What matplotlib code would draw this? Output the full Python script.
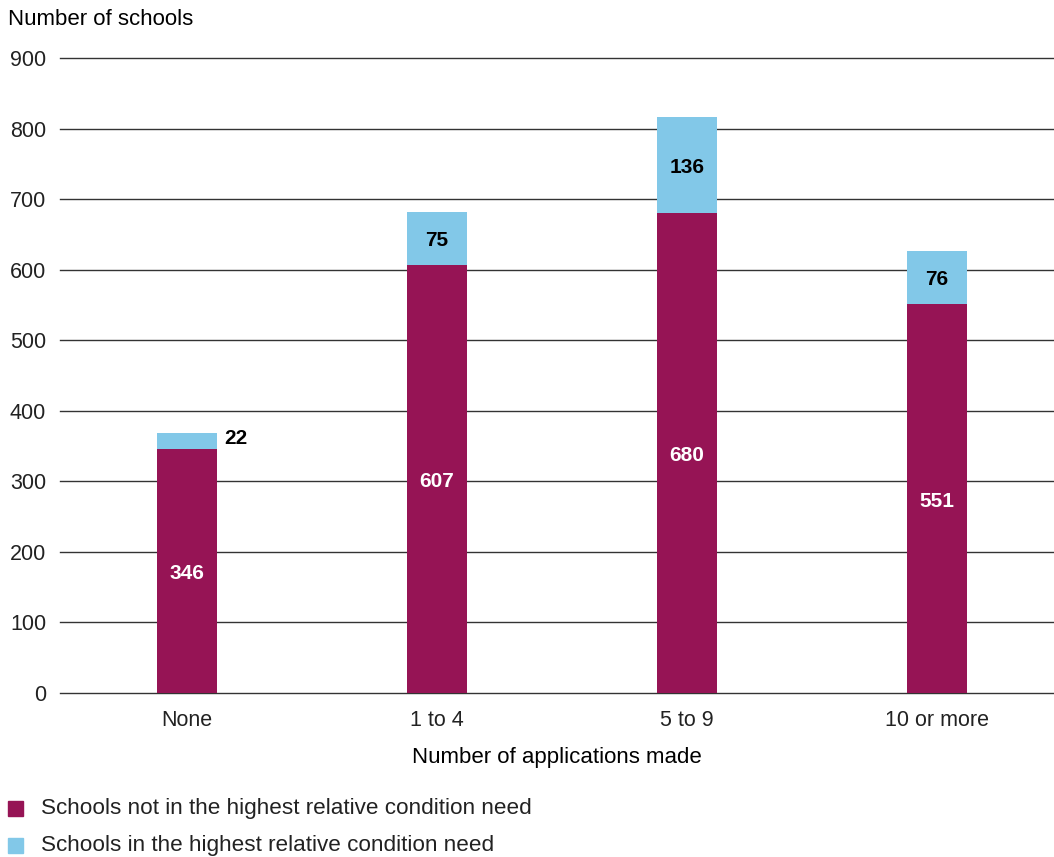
import matplotlib.pyplot as plt
from matplotlib.patches import Rectangle

plt.rcParams['font.family'] = ['Liberation Sans', 'DejaVu Sans']

categories = ['None', '1 to 4', '5 to 9', '10 or more']
not_highest = [346, 607, 680, 551]
highest = [22, 75, 136, 76]
series_names = ['Schools not in the highest relative condition need',
                'Schools in the highest relative condition need']

red = '#961455'
blue = '#82C8E8'

fig = plt.figure(figsize=(10.54, 8.57), dpi=100)
ax = fig.add_axes([0.0569, 0.1914, 0.9431, 0.7409])

x = list(range(len(categories)))
w = 0.24
ax.bar(x, not_highest, width=w, color=red, zorder=3)
ax.bar(x, highest, width=w, bottom=not_highest, color=blue, zorder=3)

for i in x:
    ax.text(i, not_highest[i] / 2 - 4, str(not_highest[i]), ha='center', va='center',
            color='white', fontsize=15, fontweight='bold', zorder=4)
    top_mid = not_highest[i] + highest[i] / 2
    if highest[i] < 40:
        ax.text(i + w / 2 + 0.03, top_mid + 3, str(highest[i]), ha='left', va='center',
                color='black', fontsize=15, fontweight='bold', zorder=4)
    else:
        ax.text(i, top_mid - 3, str(highest[i]), ha='center', va='center',
                color='black', fontsize=15, fontweight='bold', zorder=4)

ax.set_ylim(0, 900)
ax.set_yticks(range(0, 901, 100))
ax.set_xlim(-0.508, 3.468)
ax.set_xticks(x)
ax.set_xticklabels(categories)
for t in range(0, 901, 100):
    ax.axhline(t, color='#333333', linewidth=1, clip_on=False, zorder=1)
for s in ax.spines.values():
    s.set_visible(False)
ax.tick_params(axis='both', length=0, labelsize=15.5, colors='#222222')
ax.tick_params(axis='y', pad=10)
ax.tick_params(axis='x', pad=12)
ax.set_xlabel('Number of applications made', fontsize=16, labelpad=12)

fig.text(0.008, 0.977, 'Number of schools', fontsize=16, va='center', ha='left')

for yy, col, name in [(0.057, red, series_names[0]), (0.014, blue, series_names[1])]:
    fig.patches.append(Rectangle((0.008, yy - 0.009), 0.0135, 0.0175, color=col,
                                 transform=fig.transFigure, figure=fig))
    fig.text(0.039, yy, name, fontsize=16.2, va='center', ha='left', color='#222222')

fig.savefig('out.png', dpi=100)
